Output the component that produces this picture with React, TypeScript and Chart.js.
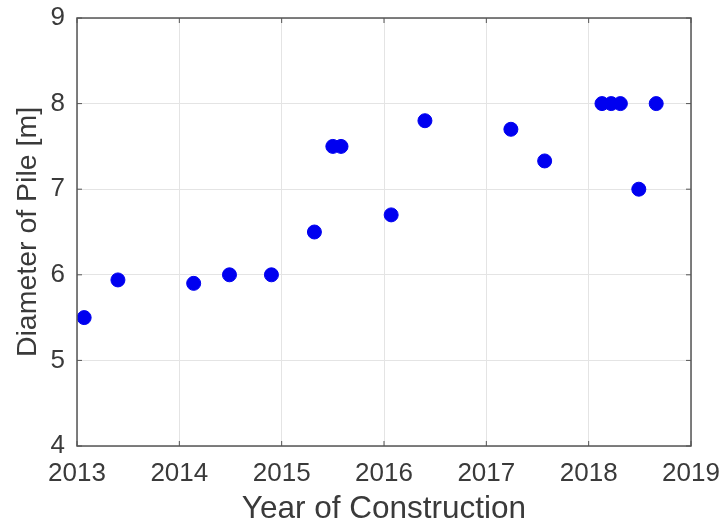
import React, { useEffect, useRef } from "react";
import { Chart, registerables } from "chart.js";

Chart.register(...registerables);

const years = [2013.07, 2013.4, 2014.14, 2014.49, 2014.9, 2015.32, 2015.5, 2015.58, 2016.07, 2016.4, 2017.24, 2017.57, 2018.13, 2018.22, 2018.31, 2018.49, 2018.66];
const diameters = [5.5, 5.94, 5.9, 6.0, 6.0, 6.5, 7.5, 7.5, 6.7, 7.8, 7.7, 7.33, 8.0, 8.0, 8.0, 7.0, 8.0];
const xTitle = "Year of Construction";
const yTitle = "Diameter of Pile [m]";

const boxPlugin = {
  id: "box",
  afterDraw(chart: any) {
    const { ctx, chartArea: a, scales } = chart;
    ctx.save();
    ctx.strokeStyle = "#555555";
    ctx.lineWidth = 1.5;
    ctx.strokeRect(a.left, a.top, a.right - a.left, a.bottom - a.top);
    ctx.lineWidth = 1;
    ctx.beginPath();
    for (const t of scales.x.ticks) {
      const px = scales.x.getPixelForValue(t.value);
      ctx.moveTo(px, a.bottom);
      ctx.lineTo(px, a.bottom - 5);
      ctx.moveTo(px, a.top);
      ctx.lineTo(px, a.top + 5);
    }
    for (const t of scales.y.ticks) {
      const py = scales.y.getPixelForValue(t.value);
      ctx.moveTo(a.left, py);
      ctx.lineTo(a.left + 5, py);
      ctx.moveTo(a.right, py);
      ctx.lineTo(a.right - 5, py);
    }
    ctx.stroke();
    ctx.restore();
  },
};

export default function App() {
  const ref = useRef<HTMLCanvasElement>(null);
  useEffect(() => {
    const family = "'Liberation Sans', Arial, sans-serif";
    const tickFont = { family, size: 26 };
    const titleFont = { family, size: 31.5, lineHeight: 0.8 };
    const chart = new Chart(ref.current!, {
      type: "scatter",
      data: {
        datasets: [
          {
            data: years.map((y, i) => ({ x: y, y: diameters[i] })),
            backgroundColor: "#0000f0",
            borderColor: "#0000f0",
            pointRadius: 7,
            pointHoverRadius: 7,
          },
        ],
      },
      options: {
        animation: false,
        responsive: false,
        maintainAspectRatio: false,
        layout: { padding: { top: 18, right: 34, left: 0, bottom: 0 } },
        plugins: { legend: { display: false }, tooltip: { enabled: false } },
        scales: {
          x: {
            type: "linear",
            min: 2013,
            max: 2019,
            afterFit: (s: any) => { s.height = 76; s.paddingLeft = 0; s.paddingRight = 0; },
            ticks: { stepSize: 1, color: "#3a3a3a", font: tickFont, padding: 12, maxRotation: 0, callback: (v: any) => String(v) },
            grid: { color: "#e4e4e4", drawTicks: false },
            border: { display: false },
            title: { display: true, text: xTitle, color: "#3a3a3a", font: titleFont, padding: { top: 0, bottom: 0 } },
          },
          y: {
            min: 4,
            max: 9,
            afterFit: (s: any) => { s.width = 77; s.paddingTop = 0; s.paddingBottom = 0; },
            ticks: { stepSize: 1, color: "#3a3a3a", font: tickFont, padding: 12 },
            grid: { color: "#e4e4e4", drawTicks: false },
            border: { display: false },
            title: { display: true, text: yTitle, color: "#3a3a3a", font: { family, size: 28.5 }, padding: { top: 11, bottom: 0 } },
          },
        },
      },
      plugins: [boxPlugin],
    });
    return () => chart.destroy();
  }, []);
  return (
    <div style={{ position: "fixed", left: 0, top: 0, width: 725, height: 522, background: "#fff" }}>
      <canvas ref={ref} width={725} height={522} />
    </div>
  );
}
